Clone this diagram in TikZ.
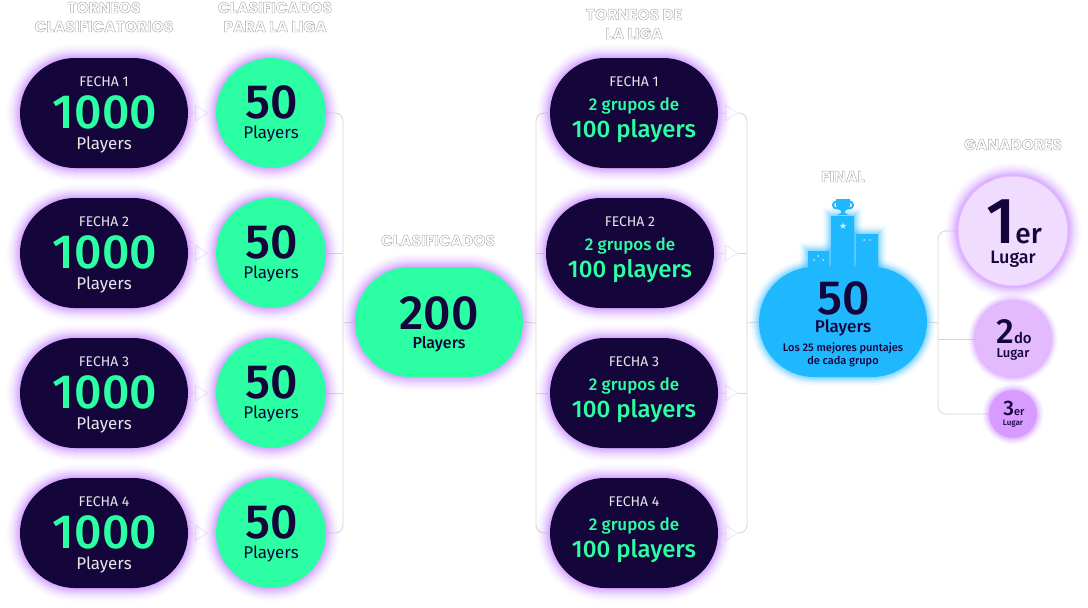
\documentclass[tikz,border=0pt]{standalone}
\usepackage{fontspec}
\setmainfont{Fira Sans}
\newfontfamily\medf{Fira Sans Medium}
\newfontfamily\headf[FakeBold=2.8]{Poppins}[BoldFont={Poppins Bold}]
\usetikzlibrary{shapes.misc,shapes.geometric,arrows.meta,backgrounds}
\definecolor{ink}{HTML}{14053B}
\definecolor{mint}{HTML}{2CFFA3}
\definecolor{sky}{HTML}{1FB8FF}
\definecolor{glowp}{HTML}{CE8CFF}
\definecolor{glowb}{HTML}{30C0FF}
\definecolor{conn}{HTML}{D6D6D6}
\definecolor{pale}{HTML}{F4E2FF}
\definecolor{goldw}{HTML}{F0DCFF}
\definecolor{silvw}{HTML}{E4BAFF}
\definecolor{bronw}{HTML}{D89BFF}
\newcommand{\fs}[1]{\fontsize{#1}{#1}\selectfont}
\tikzset{
  gl/.style n args={3}{preaction={draw=#1,draw opacity=#3,line width=#2pt}},
  pglowsm/.style={gl={glowp}{14}{.04},gl={glowp}{12}{.06},gl={glowp}{10}{.08},gl={glowp}{8}{.1},gl={glowp}{6}{.12},gl={glowp}{4}{.15},gl={glowp}{2}{.18}},
  pglow/.style={gl={glowp}{28}{.015},gl={glowp}{26}{.02},gl={glowp}{24}{.025},gl={glowp}{22}{.03},gl={glowp}{20}{.035},gl={glowp}{18}{.045},gl={glowp}{16}{.055},gl={glowp}{14}{.065},gl={glowp}{12}{.08},gl={glowp}{10}{.1},gl={glowp}{8}{.12},gl={glowp}{6}{.15},gl={glowp}{4}{.18},gl={glowp}{2}{.2}},
  bglow/.style={gl={glowb}{18}{.02},gl={glowb}{16}{.03},gl={glowb}{14}{.04},gl={glowb}{12}{.06},gl={glowb}{10}{.08},gl={glowb}{8}{.1},gl={glowb}{6}{.12},gl={glowb}{4}{.14},gl={glowb}{2}{.16}},
  pill/.style={rounded rectangle,minimum width=168pt,minimum height=110pt,inner sep=0pt,outer sep=0pt},
  round/.style={circle,inner sep=0pt,outer sep=0pt},
  dark/.style={pill,fill=ink,pglow},
  txt/.style={anchor=base,inner sep=0pt,outer sep=0pt},
  head/.style={txt,font=\headf\bfseries\fs{15.5}},
  wire/.style={draw=conn,line width=.8pt,rounded corners=8pt},
  tri/.style={draw=pale,line width=.8pt,-{Triangle[open,length=13pt,width=17pt]}},
}
\newcommand{\outl}[1]{\color{white}\special{pdf:code 0.66 0.66 0.66 RG}#1}
\begin{document}
\begin{tikzpicture}[x=1pt,y=-1pt]
\useasboundingbox (0,0) rectangle (1088,608);
\begin{pgfonlayer}{background}
\fill[white] (0,0) rectangle (1088,608);
\end{pgfonlayer}

% headers
\node[head] (h1a) at (104,13) {\outl{TORNEOS}};
\node[head] (h1b) at (104,32) {\outl{CLASIFICATORIOS}};
\node[head] (h2a) at (275,13) {\outl{CLASIFICADOS}};
\node[head] (h2b) at (275,32) {\outl{PARA LA LIGA}};
\node[head] (h3a) at (634,20) {\outl{TORNEOS DE}};
\node[head] (h3b) at (634,39) {\outl{LA LIGA}};
\node[head] (h4) at (438,246) {\outl{CLASIFICADOS}};
\node[head] (h5) at (843,182) {\outl{FINAL}};
\node[head] (h6) at (1013,150) {\outl{GANADORES}};

% first two columns
\foreach \n/\y in {1/113,2/253,3/393,4/533}{
  \node[dark] (p\n) at (104,\y) {};
  \node[round,minimum size=110pt,fill=mint,pglow] (q\n) at (271,\y) {};
  \node[txt,text=white!90!ink,font=\fs{14}] (pf\n) at (104,\y-27) {FECHA \n};
  \node[txt,text=mint,font=\medf\fs{48}] (pn\n) at (105,\y+15) {1000};
  \node[txt,text=white!90!ink,font=\fs{17}] (pt\n) at (104,\y+36) {Players};
  \node[txt,text=ink,font=\medf\fs{48}] (qn\n) at (272,\y+5) {50};
  \node[txt,text=ink,font=\fs{17}] (qt\n) at (271,\y+25) {Players};
}

% centre
\node[pill,fill=mint,pglow] (two) at (439,322) {};
\node[txt,text=ink,font=\medf\fs{48}] (twon) at (439,329) {200};
\node[txt,text=ink,font=\medf\fs{16}] (twot) at (439,348) {Players};

% league
\foreach \n/\x/\y in {1/634/113,2/630/253,3/634/393,4/634/533}{
  \node[dark] (l\n) at (\x,\y) {};
  \node[txt,text=white!90!ink,font=\fs{14}] (lf\n) at (\x,\y-27) {FECHA \n};
  \node[txt,text=mint,font=\medf\fs{17}] (lg\n) at (\x,\y-3) {2 grupos de};
  \node[txt,text=mint,font=\medf\fs{24}] (lp\n) at (\x,\y+24) {100 players};
  \coordinate (tip\n) at (738,\y);
}

% final with podium
\fill[sky,bglow] (808,251) rectangle (829,275);
\fill[sky,bglow] (831,216) rectangle (854,275);
\fill[sky,bglow] (856,234) rectangle (878,275);
\node[pill,fill=sky,bglow] (final) at (843,322) {};
\fill[sky] (808,251) rectangle (829,275) (831,216) rectangle (854,275) (856,234) rectangle (878,275);
\draw[sky,line width=2pt] (836.5,205) circle (3.5pt) (849.5,205) circle (3.5pt);
\fill[sky] (836,199) -- (850,199) -- (850,205) .. controls (850,209) and (847,210) .. (845,211) -- (845,213) -- (849,215) -- (837,215) -- (841,213) -- (841,211) .. controls (839,210) and (836,209) .. (836,205) -- cycle;
\node[star,star points=5,star point ratio=2.2,fill=white!75!sky,inner sep=0pt,minimum size=6.5pt] (s0) at (843,226) {};
\foreach \i/\x/\y in {1/818/256,2/814/260,3/823/260,4/864/240,5/870/240}{
  \fill[white!70!sky] (\x,\y) circle (1pt);
}
\node[txt,text=ink,font=\medf\fs{48}] (fn) at (844,314) {50};
\node[txt,text=ink,font=\medf\fs{17}] (ft) at (843,332) {Players};
\node[txt,text=ink,font=\medf\fs{11}] (fa) at (843,351) {Los 25 mejores puntajes};
\node[txt,text=ink,font=\medf\fs{11}] (fb) at (843,364) {de cada grupo};

% winners
\node[round,minimum size=110pt,fill=goldw,draw=silvw,line width=1pt,pglow] (w1) at (1013,231) {};
\node[round,minimum size=76pt,fill=silvw,draw=silvw!85!glowp,line width=.6pt,pglowsm] (w2) at (1013,339) {};
\node[round,minimum size=48pt,fill=bronw,pglowsm] (w3) at (1013,414) {};
\node[txt,text=ink,font=\medf] (w1n) at (1014,243) {\fs{65}1\fs{28}er};
\node[txt,text=ink,font=\medf\fs{18}] (w1t) at (1013,263) {Lugar};
\node[txt,text=ink,font=\medf] (w2n) at (1014,343) {\fs{35}2\fs{15}do};
\node[txt,text=ink,font=\medf\fs{13}] (w2t) at (1013,357) {Lugar};
\node[txt,text=ink,font=\medf] (w3n) at (1014,415) {\fs{21}3\fs{11}er};
\node[txt,text=ink,font=\medf\fs{8}] (w3t) at (1013,425) {Lugar};

% connectors
\begin{pgfonlayer}{background}
\coordinate (brA) at (343,323);
\coordinate (brB) at (536,323);
\coordinate (brC) at (747,323);
\coordinate (brD) at (938,323);
\foreach \n in {1,2,3,4}{
  \draw[tri,shorten >=8pt] (p\n.east) -- (q\n.west);
  \draw[tri] (l\n.east) -- (tip\n);
}
\draw[wire] (q1.east) -- (q1.east -| brA) -- (q4.east -| brA) -- (q4.east);
\draw[wire] (q2.east) -- (q2.east -| brA);
\draw[wire] (q3.east) -- (q3.east -| brA);
\draw[wire] (brA) -- (two.west);
\draw[wire] (two.east) -- (brB);
\draw[wire] (l1.west) -- (l1.west -| brB) -- (l4.west -| brB) -- (l4.west);
\draw[wire] (l2.west) -- (l2.west -| brB);
\draw[wire] (l3.west) -- (l3.west -| brB);
\draw[wire] (tip1) -- (tip1 -| brC) -- (tip4 -| brC) -- (tip4);
\draw[wire] (tip2) -- (tip2 -| brC);
\draw[wire] (tip3) -- (tip3 -| brC);
\draw[wire] (brC) -- (final.west);
\draw[wire] (final.east) -- (brD);
\draw[wire] (w1.west) -- (w1.west -| brD) -- (w3.west -| brD) -- (w3.west);
\draw[wire] (w2.west) -- (w2.west -| brD);
\end{pgfonlayer}
\end{tikzpicture}
\end{document}
